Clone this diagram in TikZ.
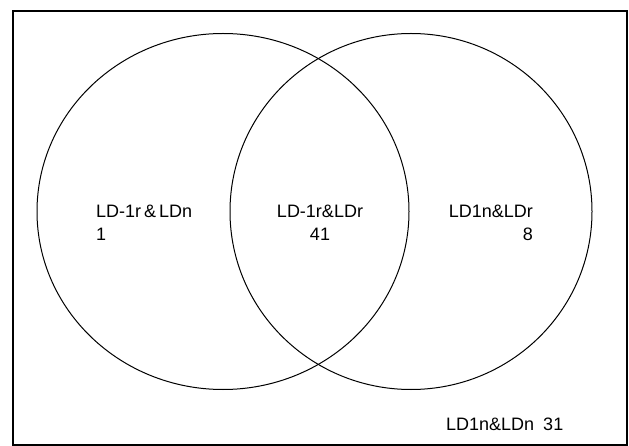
\documentclass[tikz,border=0pt]{standalone}
\usepackage{fontspec}
\setmainfont{Liberation Sans}
\begin{document}
\begin{tikzpicture}[x=1pt,y=-1pt,
  setline/.style={line width=1pt},
  lbl/.style={inner sep=0pt,font=\fontsize{18}{22}\selectfont}]
\useasboundingbox (0,0) rectangle (629,446);
\node[draw,line width=1.6pt,minimum width=614pt,minimum height=434pt,inner sep=0pt,anchor=north west] (frame) at (12,10) {};
\draw[setline] (223,211.5) ellipse [x radius=186, y radius=178];
\draw[setline] (411,211.5) ellipse [x radius=181, y radius=178];
\node[lbl,anchor=base west] (a1) at (96,218) {LD-1r\hspace{3pt}\&\hspace{3pt}LDn};
\node[lbl,anchor=base west] (a2) at (96,241) {1};
\node[lbl,anchor=base] (b1) at (320,218) {LD-1r\&LDr};
\node[lbl,anchor=base] (b2) at (320,241) {41};
\node[lbl,anchor=base east] (c1) at (533,218) {LD1n\&LDr};
\node[lbl,anchor=base east] (c2) at (533,241) {8};
\node[lbl,anchor=base west] (d1) at (446,430) {LD1n\&LDn\hspace{9pt}31};
\end{tikzpicture}
\end{document}
